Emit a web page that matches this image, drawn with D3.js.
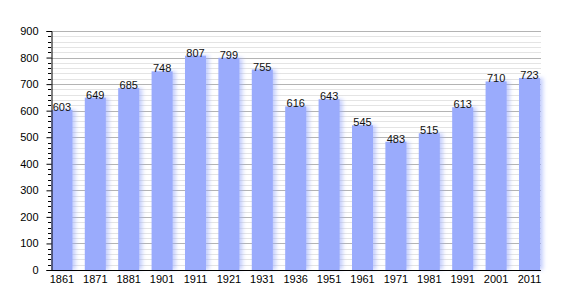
<!DOCTYPE html>
<html lang="en">
  <head>
    <meta charset="UTF-8" />
    <title>Population 1861-2011</title>
    <style>
      body { margin: 0; background: #fff; }
      text { font-family: "Liberation Sans", Arial, sans-serif; }
    </style>
  </head>
  <body>
    <svg width="570" height="300"></svg>
    <script src="https://d3js.org/d3.v7.min.js"></script>
    <script>
      var years = ["1861", "1871", "1881", "1901", "1911", "1921", "1931", "1936",
                   "1951", "1961", "1971", "1981", "1991", "2001", "2011"];
      var population = [603, 649, 685, 748, 807, 799, 755, 616, 643, 545, 483, 515, 613, 710, 723];
      var yTicks = [0, 100, 200, 300, 400, 500, 600, 700, 800, 900];

      var svg = d3.select("svg");
      var plotLeft = 51, plotRight = 541, plotTop = 31, plotBottom = 270;

      var y = d3.scaleLinear().domain([0, 900]).range([plotBottom, plotTop]);
      var x = d3.scaleBand()
        .domain(years)
        .range([51.4, 540])
        .paddingInner(0.371)
        .paddingOuter(0);

      // soft shadow on the right of the bars
      var defs = svg.append("defs");
      var f = defs.append("filter").attr("id", "glow")
        .attr("x", "-20%").attr("y", "-5%").attr("width", "160%").attr("height", "110%");
      f.append("feOffset").attr("in", "SourceGraphic").attr("dx", 3).attr("dy", 0).attr("result", "off");
      f.append("feGaussianBlur").attr("in", "off").attr("stdDeviation", 2).attr("result", "blur");
      f.append("feComponentTransfer").attr("in", "blur").attr("result", "fade")
        .append("feFuncA").attr("type", "linear").attr("slope", 0.6);
      var m = f.append("feMerge");
      m.append("feMergeNode").attr("in", "fade");
      m.append("feMergeNode").attr("in", "SourceGraphic");

      // grid: minor every 20, major every 100
      var minor = d3.range(20, 901, 20).filter(function(v) { return v % 100 !== 0; });
      svg.append("g").selectAll("line").data(minor).enter().append("line")
        .attr("x1", plotLeft).attr("x2", plotRight)
        .attr("y1", function(d) { return Math.round(y(d)) + 0.5; })
        .attr("y2", function(d) { return Math.round(y(d)) + 0.5; })
        .attr("stroke", "#e4e4e4").attr("stroke-width", 1);
      svg.append("g").selectAll("line").data(yTicks.slice(1)).enter().append("line")
        .attr("x1", plotLeft).attr("x2", plotRight)
        .attr("y1", function(d) { return Math.round(y(d)) + 0.5; })
        .attr("y2", function(d) { return Math.round(y(d)) + 0.5; })
        .attr("stroke", "#b4b4b4").attr("stroke-width", 1);

      // bars
      svg.append("g").attr("filter", "url(#glow)")
        .selectAll("rect").data(population).enter().append("rect")
        .attr("x", function(d, i) { return x(years[i]); })
        .attr("width", x.bandwidth())
        .attr("y", function(d) { return y(d); })
        .attr("height", function(d) { return plotBottom - y(d); })
        .attr("fill", "#9aabfc");

      // value labels
      svg.append("g").selectAll("text").data(population).enter().append("text")
        .attr("x", function(d, i) { return x(years[i]) + x.bandwidth() / 2; })
        .attr("y", function(d) { return y(d) + 1; })
        .attr("text-anchor", "middle")
        .attr("font-size", 11)
        .attr("fill", "#111")
        .text(function(d) { return d; });

      // y axis
      var ya = svg.append("g").attr("transform", "translate(" + (plotLeft + 0.5) + ",0)")
        .call(d3.axisLeft(y).tickValues(yTicks).tickSize(5).tickPadding(8));
      ya.select(".domain").attr("stroke", "#000");
      ya.selectAll(".tick text").attr("font-size", 11).attr("fill", "#000")
        .style("font-family", "Liberation Sans, Arial, sans-serif");
      svg.append("g").selectAll("line").data(minor).enter().append("line")
        .attr("x1", plotLeft - 3).attr("x2", plotLeft)
        .attr("y1", function(d) { return Math.round(y(d)) + 0.5; })
        .attr("y2", function(d) { return Math.round(y(d)) + 0.5; })
        .attr("stroke", "#000");

      // x axis
      var xa = svg.append("g").attr("transform", "translate(0," + (plotBottom + 0.5) + ")")
        .call(d3.axisBottom(x).tickSize(0).tickPadding(5));
      xa.select(".domain").attr("d", "M" + plotLeft + ",0H" + plotRight).attr("stroke", "#000");
      xa.selectAll(".tick text").attr("font-size", 11).attr("fill", "#000")
        .style("font-family", "Liberation Sans, Arial, sans-serif");
    </script>
  </body>
</html>
